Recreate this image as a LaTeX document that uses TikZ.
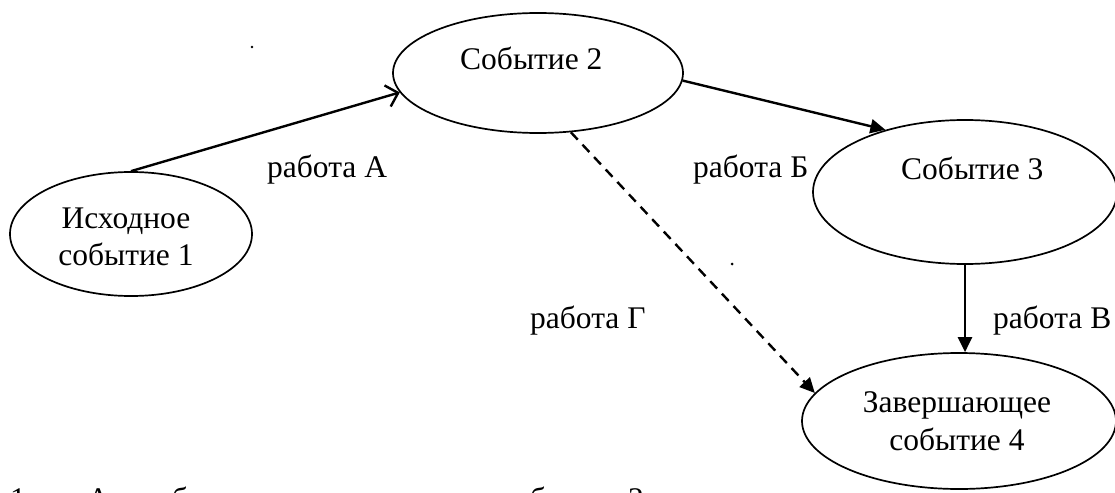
\documentclass[tikz,border=0pt]{standalone}
\usepackage{fontspec}
\setmainfont{Liberation Serif}
\usetikzlibrary{arrows.meta,shapes.geometric}
\begin{document}
\begin{tikzpicture}[x=1pt,y=-1pt,
  event/.style={draw, ellipse, line width=1.7pt, inner sep=0pt},
  txt/.style={inner sep=0pt, font=\fontsize{31.5}{37.5}\selectfont},
  work/.style={line width=2.4pt},
  solidtip/.style={-{Triangle[length=15pt,width=14pt]}},
  opentip/.style={-{Straight Barb[length=11pt,width=22pt,line width=2.4pt]}}]
  \useasboundingbox (0,0) rectangle (1115,492);
  \clip (0,0) rectangle (1115,492);

  % events
  \node[event, minimum width=242pt, minimum height=124pt] (e1) at (131,234) {};
  \node[event, minimum width=290pt, minimum height=120pt] (e2) at (538,73) {};
  \node[event, minimum width=304pt, minimum height=144pt] (e3) at (965,192) {};
  \node[event, minimum width=314pt, minimum height=136pt] (e4) at (959,421) {};

  % event captions
  \node[txt, align=center] (t1) at (126,237) {Исходное\\событие 1};
  \node[txt, anchor=base west] (t2) at (460,70) {Событие 2};
  \node[txt, anchor=base west] (t3) at (901,179) {Событие 3};
  \node[txt, align=center] (t4) at (957,421) {Завершающее\\событие 4};

  % works
  \draw[work, opentip] (e1.north) -- (e2.188);
  \draw[work, solidtip] (e2.-3) -- (e3.142);
  \draw[work, solidtip, dash pattern=on 10pt off 7pt] (e2.-61.5) -- (e4.169);
  \draw[work, solidtip] (e3.south) -- (e3.south |- e4.north);

  % work labels
  \node[txt, anchor=base west] (la) at (267,177) {работа А};
  \node[txt, anchor=base west] (lb) at (693,177) {работа Б};
  \node[txt, anchor=base west] (lg) at (530,328) {работа Г};
  \node[txt, anchor=base west] (lv) at (993,328) {работа В};

  % stray specks
  \fill (252,47) circle (1.3pt);
  \fill (732,264) circle (1.5pt);

  % next text line, cut by the lower edge
  \node[txt, anchor=base west] (n1) at (10,509) {1};
  \node[txt, anchor=base west] (n2) at (87,509) {А};
  \node[txt, anchor=base west] (n3) at (142,509) {работа};
  \node[txt, anchor=base west] (n4) at (500,509) {событие};
  \node[txt, anchor=base west] (n5) at (628,509) {2};
\end{tikzpicture}
\end{document}
